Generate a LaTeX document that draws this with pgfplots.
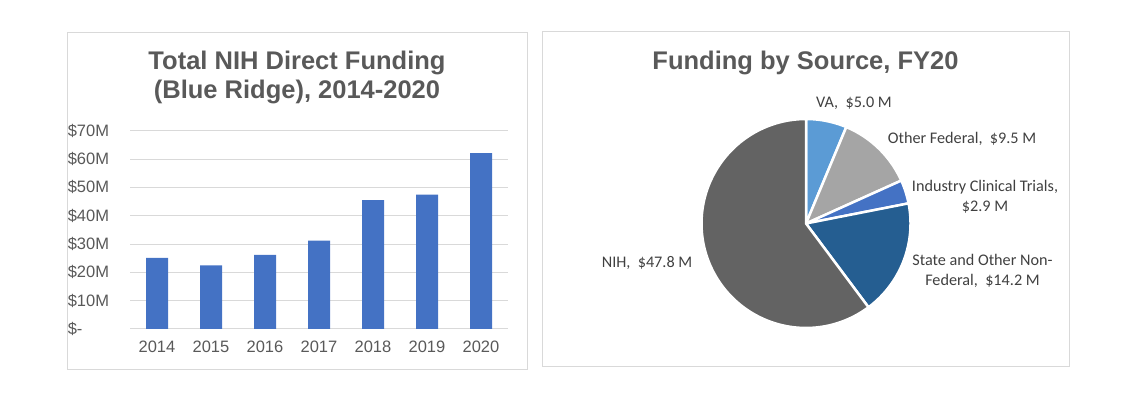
\documentclass[border=0pt]{standalone}
\usepackage{fontspec}
\setmainfont{Liberation Sans}
\newfontfamily\calibri{Carlito}
\usepackage{pgfplots}
\pgfplotsset{compat=1.18}
\definecolor{barblue}{HTML}{4472C4}
\definecolor{gridgray}{HTML}{D9D9D9}
\definecolor{framegray}{HTML}{D9D9D9}
\definecolor{txtgray}{HTML}{595959}
\definecolor{lblgray}{HTML}{404040}
\definecolor{vablue}{HTML}{5B9BD5}
\definecolor{ofgray}{HTML}{A5A5A5}
\definecolor{indblue}{HTML}{4472C4}
\definecolor{stblue}{HTML}{255E91}
\definecolor{nihgray}{HTML}{636363}

% one pie slice: cumulative start, value, colour (total 79.4, clockwise from top)
\newcommand\pieslice[3]{%
  \pgfmathsetmacro\angS{90-(#1)/79.4*360}%
  \pgfmathsetmacro\angE{90-(#1+#2)/79.4*360}%
  \edef\doslice{\noexpand\addplot[fill=#3, draw=white, line width=2.5pt,
    line join=round, domain=\angE:\angS, samples=90]
    ({cos(x)},{sin(x)}) -- (axis cs:0,0) -- cycle;}%
  \doslice}

\begin{document}
\begin{tikzpicture}
\useasboundingbox (0,0) rectangle (1140pt,417pt);
\draw[framegray, line width=1pt] (67pt,47pt) rectangle (527pt,384pt);
\draw[framegray, line width=1pt] (542pt,50pt) rectangle (1069pt,385pt);

\node[txtgray, font=\fontsize{25.5}{29}\selectfont\bfseries, align=center]
  at (297pt,339.5pt) {Total NIH Direct Funding\\(Blue Ridge), 2014-2020};
\node[txtgray, font=\fontsize{25.5}{29}\selectfont\bfseries]
  at (805.5pt,354.3pt) {Funding by Source, FY20};

\begin{axis}[
  at={(130pt,88pt)}, anchor=south west,
  scale only axis, width=378pt, height=198.3pt,
  ybar, bar width=22pt,
  xmin=-0.5, xmax=6.5, ymin=0, ymax=70,
  xtick={0,...,6},
  xticklabels={2014,2015,2016,2017,2018,2019,2020},
  ytick={0,10,...,70},
  yticklabels={\$-,\$10M,\$20M,\$30M,\$40M,\$50M,\$60M,\$70M},
  ymajorgrids, grid style={gridgray, line width=1pt},
  axis line style={draw=none}, major tick length=0pt,
  tick label style={txtgray, font=\fontsize{16.5}{19}\selectfont},
  yticklabel style={anchor=east, text width=42pt, align=left, inner sep=0pt, xshift=-20pt},
  xticklabel style={yshift=-8pt},
  /pgf/number format/assume math mode=true,
]
\addplot[fill=barblue, draw=none] coordinates {
(0,25.1) (1,22.5) (2,26.2) (3,31.2) (4,45.5) (5,47.4) (6,62.1)
};
\end{axis}

\begin{axis}[
  at={(806pt,193.5pt)}, anchor=center,
  scale only axis, width=209pt, height=209pt,
  xmin=-1, xmax=1, ymin=-1, ymax=1,
  hide axis, clip=false,
]
\pieslice{0}{5.0}{vablue}
\pieslice{5.0}{9.5}{ofgray}
\pieslice{14.5}{2.9}{indblue}
\pieslice{17.4}{14.2}{stblue}
\pieslice{31.6}{47.8}{nihgray}
\end{axis}

\begin{scope}[every node/.style={lblgray, font=\calibri\fontsize{16.2}{20}\selectfont, align=center}]
\node at (854pt,313.7pt) {VA,\ \ \$5.0 M};
\node at (962pt,278pt) {Other Federal,\ \ \$9.5 M};
\node at (985pt,220.3pt) {Industry Clinical Trials,\\\$2.9 M};
\node at (982.5pt,146pt) {State and Other Non-\\Federal,\ \ \$14.2 M};
\node at (647pt,154pt) {NIH,\ \ \$47.8 M};
\end{scope}
\end{tikzpicture}
\end{document}
